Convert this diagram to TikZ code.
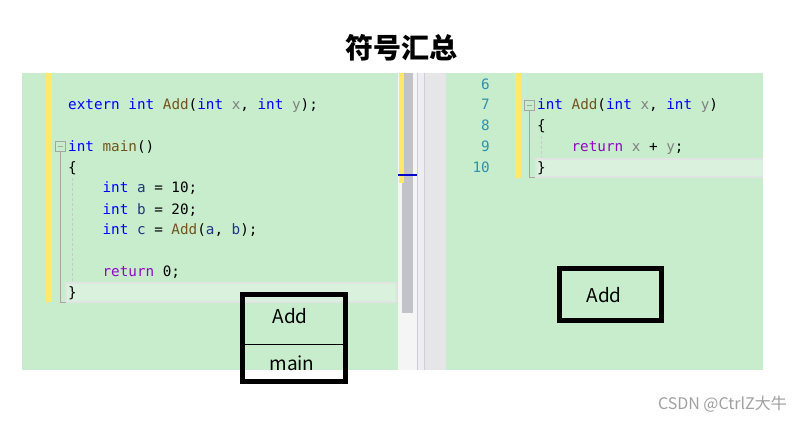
\documentclass[tikz,border=0pt]{standalone}
\usepackage{fontspec}
\setmonofont{DejaVu Sans Mono}
\newfontfamily\cjk{Noto Sans CJK SC}
\definecolor{bggreen}{HTML}{C7EDCC}
\definecolor{hlgreen}{HTML}{D9F1DD}
\definecolor{hlborder}{HTML}{E2E4E3}
\definecolor{kw}{HTML}{0000FF}
\definecolor{fn}{HTML}{74531F}
\definecolor{par}{HTML}{808080}
\definecolor{var}{HTML}{1F377F}
\definecolor{ret}{HTML}{8F08C4}
\definecolor{lnum}{HTML}{2B91AF}
\definecolor{yellowbar}{HTML}{FFE86A}
\definecolor{sbl}{HTML}{F5F5F5}
\definecolor{sbthumb}{HTML}{C2C3C9}
\definecolor{sbline}{HTML}{CCCEDB}
\definecolor{sbmid}{HTML}{EEEEF2}
\definecolor{sbr}{HTML}{E6E6E8}
\definecolor{foldgray}{HTML}{A5A5A5}
\definecolor{wm}{HTML}{A0A0A0}
\tikzset{
  code/.style={anchor=base west, inner sep=0pt, font=\ttfamily\fontsize{14.3}{16}\selectfont},
  linenum/.style={anchor=base east, inner sep=0pt, text=lnum, font=\ttfamily\fontsize{14.3}{16}\selectfont},
  symbox/.style={draw=black, line width=5pt},
  symlabel/.style={inner sep=0pt, font=\cjk\fontsize{19}{22}\selectfont},
  foldbox/.style={draw=foldgray, line width=0.8pt},
  foldline/.style={draw=foldgray, line width=1pt},
  guide/.style={draw=foldgray!60, line width=0.8pt, dash pattern=on 3pt off 2pt},
  hlrow/.style={fill=hlgreen, draw=hlborder, line width=2pt},
  changebar/.style={fill=yellowbar}
}
\begin{document}
\begin{tikzpicture}[x=1pt,y=-1pt]
\useasboundingbox (0,0) rectangle (802,422);
\fill[white] (0,0) rectangle (802,422);
% panels
\fill[bggreen] (22,73) rectangle (398,370);
\fill[bggreen] (446,73) rectangle (763,370);
% middle scrollbar area
\fill[sbl] (398,73) rectangle (417,370);
\fill[sbmid] (417,73) rectangle (424,370);
\fill[sbr] (424,73) rectangle (446,370);
\draw[sbline, line width=0.8pt] (417.5,73) -- (417.5,370);
\draw[sbline, line width=0.8pt] (424.5,73) -- (424.5,370);
\fill[sbthumb] (402,73) rectangle (413,313);
\path[changebar] (399,73) rectangle (404,183);
\draw[blue!80!black, line width=2pt] (398,175) -- (417,175);
% left highlight row
\draw[hlrow] (66,283) rectangle (396,302);
% right highlight row
\fill[hlborder] (535,158) rectangle (763,178);
\fill[hlgreen] (537,160) rectangle (763,176);
% yellow change bars
\path[changebar] (46,73) rectangle (52,302);
\path[changebar] (515,73) rectangle (521,178);
% fold markers left
\draw[foldbox] (55.5,141.5) rectangle (65.5,151.5);
\draw[foldline] (58,146.5) -- (63,146.5);
\draw[foldline] (60.5,151.5) -- (60.5,302) -- (66,302);
\draw[guide] (72,178) -- (72,281);
% fold markers right
\draw[foldbox] (524,100.5) rectangle (534,110.5);
\draw[foldline] (526.5,105.5) -- (531.5,105.5);
\draw[foldline] (529,110.5) -- (529,177) -- (535,177);
\draw[guide] (541,136) -- (541,157);
% left code
\node[code] (l1) at (68,110) {\textcolor{kw}{extern} \textcolor{kw}{int} \textcolor{fn}{Add}(\textcolor{kw}{int} \textcolor{par}{x}, \textcolor{kw}{int} \textcolor{par}{y});};
\node[code] (l2) at (68,152) {\textcolor{kw}{int} \textcolor{fn}{main}()};
\node[code] (l3) at (68,172) {\{};
\node[code] (l4) at (102.4,193) {\textcolor{kw}{int} \textcolor{var}{a} = 10;};
\node[code] (l5) at (102.4,214) {\textcolor{kw}{int} \textcolor{var}{b} = 20;};
\node[code] (l6) at (102.4,234) {\textcolor{kw}{int} \textcolor{var}{c} = \textcolor{fn}{Add}(\textcolor{var}{a}, \textcolor{var}{b});};
\node[code] (l7) at (102.4,276) {\textcolor{ret}{return} 0;};
\node[code] (l8) at (68,297) {\}};
% right line numbers
\node[linenum] (n6) at (490,90) {6};
\node[linenum] (n7) at (490,110) {7};
\node[linenum] (n8) at (490,131) {8};
\node[linenum] (n9) at (490,152) {9};
\node[linenum] (n10) at (490,172) {10};
% right code
\node[code] (r1) at (537,110) {\textcolor{kw}{int} \textcolor{fn}{Add}(\textcolor{kw}{int} \textcolor{par}{x}, \textcolor{kw}{int} \textcolor{par}{y})};
\node[code] (r2) at (537,131) {\{};
\node[code] (r3) at (571.4,152) {\textcolor{ret}{return} \textcolor{par}{x} + \textcolor{par}{y};};
\node[code] (r4) at (537,172) {\}};
% symbol boxes
\draw[symbox] (242.5,294.5) rectangle (345.5,381.5);
\draw[black, line width=1pt] (243,344) -- (345,344);
\node[symlabel] (addL) at (290,316) {Add};
\node[symlabel] (mainL) at (292,363) {main};
\draw[symbox] (559.5,268.5) rectangle (661.5,320.5);
\node[symlabel] (addR) at (604,295) {Add};
% title
\node[inner sep=0pt, font=\cjk\bfseries\fontsize{28}{32}\selectfont] (title) at (401,48) {符号汇总};
% watermark
\node[anchor=east, inner sep=0pt, text=wm, font=\cjk\fontsize{16}{18}\selectfont] (wmark) at (787,404) {CSDN @CtrlZ大牛};
\end{tikzpicture}
\end{document}
